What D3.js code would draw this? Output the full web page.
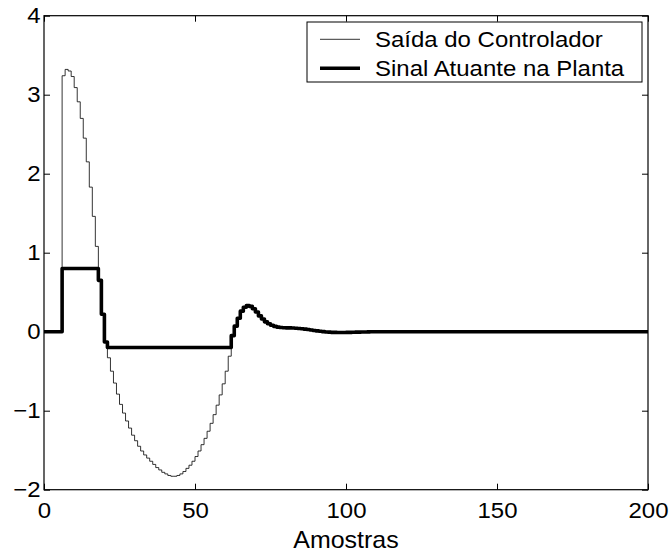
<!DOCTYPE html>
<html>
<head>
<meta charset="utf-8">
<script src="https://cdn.jsdelivr.net/npm/d3@7"></script>
<style>
  html, body { margin: 0; padding: 0; background: #fff; }
  svg { display: block; }
  text { font-family: "Liberation Sans", Arial, Helvetica, sans-serif; fill: #000; }
</style>
</head>
<body>
<svg id="chart" width="671" height="556"></svg>
<script>
// ---- data (one sample per index k = 0, 1, 2, ...; held constant until the next sample) ----
const saidaControlador = [
  0, 0, 0, 0, 0, 0,
  3.24, 3.32, 3.30, 3.23, 3.09, 2.91, 2.70, 2.45, 2.15, 1.83,
  1.46, 1.08, 0.65, 0.22,
  -0.13, -0.33, -0.50, -0.65, -0.79, -0.92, -1.03, -1.13, -1.22, -1.31,
  -1.38, -1.45, -1.51, -1.56, -1.60, -1.64, -1.68, -1.72, -1.75, -1.78,
  -1.80, -1.82, -1.83, -1.83, -1.82, -1.80, -1.77, -1.73, -1.69, -1.64,
  -1.58, -1.51, -1.43, -1.35, -1.26, -1.16, -1.05, -0.93, -0.80, -0.66,
  -0.50, -0.31, -0.05, 0.07, 0.17, 0.26, 0.31, 0.33, 0.32, 0.29,
  0.25, 0.20, 0.16, 0.125, 0.10, 0.082, 0.068, 0.058, 0.053, 0.050,
  0.049, 0.048, 0.046, 0.044, 0.041, 0.037, 0.032, 0.027, 0.021, 0.015,
  0.010, 0.005, 0.001, -0.003, -0.006, -0.008, -0.009, -0.010, -0.010, -0.010,
  -0.009, -0.008, -0.007, -0.006, -0.005, -0.004, -0.003, -0.002, -0.001, 0,
  0
];
const sinalAtuante = [
  0, 0, 0, 0, 0, 0,
  0.8, 0.8, 0.8, 0.8, 0.8, 0.8, 0.8, 0.8, 0.8, 0.8,
  0.8, 0.8, 0.65, 0.22,
  -0.13, -0.2, -0.2, -0.2, -0.2, -0.2, -0.2, -0.2, -0.2, -0.2,
  -0.2, -0.2, -0.2, -0.2, -0.2, -0.2, -0.2, -0.2, -0.2, -0.2,
  -0.2, -0.2, -0.2, -0.2, -0.2, -0.2, -0.2, -0.2, -0.2, -0.2,
  -0.2, -0.2, -0.2, -0.2, -0.2, -0.2, -0.2, -0.2, -0.2, -0.2,
  -0.2, -0.2, -0.05, 0.07, 0.17, 0.26, 0.31, 0.33, 0.32, 0.29,
  0.25, 0.20, 0.16, 0.125, 0.10, 0.082, 0.068, 0.058, 0.053, 0.050,
  0.049, 0.048, 0.046, 0.044, 0.041, 0.037, 0.032, 0.027, 0.021, 0.015,
  0.010, 0.005, 0.001, -0.003, -0.006, -0.008, -0.009, -0.010, -0.010, -0.010,
  -0.009, -0.008, -0.007, -0.006, -0.005, -0.004, -0.003, -0.002, -0.001, 0,
  0
];
const ultimaAmostra = 200;   // both signals stay at 0 until the last sample
const xTicks = [0, 50, 100, 150, 200];
const yTicks = [-2, -1, 0, 1, 2, 3, 4];
const xDomain = [0, 200];
const yDomain = [-2, 4];
const legendLabels = ["Saída do Controlador", "Sinal Atuante na Planta"];
const xLabel = "Amostras";

// ---- layout ----
const svg = d3.select("#chart");
const L = 44, R = 648, T = 15.7, B = 489.7;
const x = d3.scaleLinear().domain(xDomain).range([L, R]);
const y = d3.scaleLinear().domain(yDomain).range([B, T]);
const SX = 1.09; // horizontal text stretch seen in the reference

function toPoints(arr) {
  const pts = arr.map((v, k) => [k, v]);
  pts.push([ultimaAmostra, arr[arr.length - 1]]);
  return pts;
}
const line = d3.line().x(d => x(d[0])).y(d => y(d[1])).curve(d3.curveStepAfter);

svg.append("defs").append("clipPath").attr("id", "clip")
  .append("rect").attr("x", L).attr("y", T).attr("width", R - L).attr("height", B - T);

const plot = svg.append("g").attr("clip-path", "url(#clip)");
plot.append("path").datum(toPoints(saidaControlador))
  .attr("d", line).attr("fill", "none").attr("stroke", "#000")
  .attr("stroke-width", 0.8);
plot.append("path").datum(toPoints(sinalAtuante))
  .attr("d", line).attr("fill", "none").attr("stroke", "#000")
  .attr("stroke-width", 3.6).attr("stroke-linejoin", "round");

// ---- axes (box with inward ticks) ----
const tickLen = 6;
const fmt = d3.format("d");
const gx = svg.append("g").attr("transform", `translate(0,${B})`)
  .call(d3.axisBottom(x).tickValues(xTicks).tickFormat(fmt).tickSize(-tickLen).tickPadding(12.5));
const gxTop = svg.append("g").attr("transform", `translate(0,${T})`)
  .call(d3.axisTop(x).tickValues(xTicks).tickFormat("").tickSize(-tickLen));
const gy = svg.append("g").attr("transform", `translate(${L},0)`)
  .call(d3.axisLeft(y).tickValues(yTicks).tickFormat(fmt).tickSize(-tickLen).tickPadding(3.5));
const gyR = svg.append("g").attr("transform", `translate(${R},0)`)
  .call(d3.axisRight(y).tickValues(yTicks).tickFormat("").tickSize(-tickLen));

[gx, gxTop, gy, gyR].forEach(g => {
  g.select(".domain").remove();
  g.selectAll("line").attr("stroke", "#000").attr("stroke-width", 1);
  g.selectAll("text").attr("font-size", 22).attr("font-family", null);
});
gx.selectAll("text").attr("transform", `scale(${SX},1)`);
gy.selectAll("text").attr("transform", `scale(${SX},1)`).attr("x", -3.5 / SX);

svg.append("rect").attr("x", L).attr("y", T).attr("width", R - L).attr("height", B - T)
  .attr("fill", "none").attr("stroke", "#000").attr("stroke-width", 1.2);

// ---- x label ----
svg.append("g").attr("transform", `translate(${(L + R) / 2},548)`)
  .append("text").attr("text-anchor", "middle").attr("font-size", 24)
  .attr("transform", "scale(1.04,1)").text(xLabel);

// ---- legend ----
const lg = svg.append("g");
lg.append("rect").attr("x", 307).attr("y", 22).attr("width", 335).attr("height", 60)
  .attr("fill", "#fff").attr("stroke", "#000").attr("stroke-width", 1);
const rows = [39.3, 68.3];
const widths = [0.8, 3.6];
legendLabels.forEach((lab, i) => {
  lg.append("line").attr("x1", 320).attr("x2", 360).attr("y1", rows[i]).attr("y2", rows[i])
    .attr("stroke", "#000").attr("stroke-width", widths[i]);
  lg.append("g").attr("transform", `translate(375,${rows[i] + 7.8})`)
    .append("text").attr("font-size", 22).attr("transform", `scale(${SX},1)`).text(lab);
});
</script>
</body>
</html>
